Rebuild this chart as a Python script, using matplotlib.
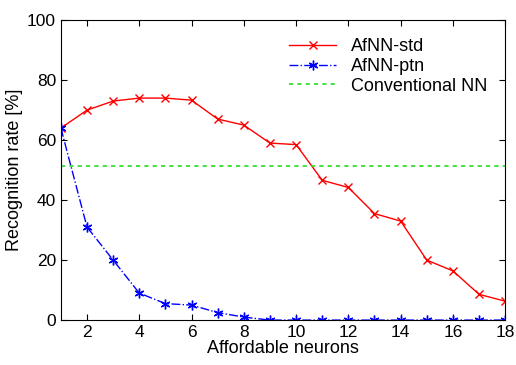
import matplotlib
matplotlib.use("Agg")
import matplotlib.pyplot as plt

neurons = list(range(1, 19))
afnn_std = [64, 70, 73, 74, 74, 73.3, 67, 65, 59, 58.5, 46.6, 44.2, 35.5, 33, 20, 16.4, 8.6, 6.3]
afnn_ptn = [64, 31, 20, 9, 5.5, 5, 2.5, 1, 0, 0, 0, 0, 0, 0, 0, 0, 0, 0]
conventional = 51.5


def main():
    plt.rcParams['font.family'] = ['Liberation Sans', 'DejaVu Sans']
    fig = plt.figure(figsize=(5.16, 3.65), dpi=100)
    ax = fig.add_axes([0.118, 0.123, 0.861, 0.822])

    ax.plot(neurons, afnn_std, color='red', marker='x', markersize=6, linewidth=1, label='AfNN-std')
    ax.plot(neurons, afnn_ptn, color='blue', marker=(6, 2, 0), markersize=7, linewidth=1,
            linestyle='-.', label='AfNN-ptn')
    ax.axhline(conventional, color='#22dd22', linewidth=1.2, linestyle=(0, (2.5, 2.5)),
               label='Conventional NN')

    ax.set_xlim(1, 18)
    ax.set_ylim(0, 100)
    ax.set_xticks(range(2, 19, 2))
    ax.set_yticks(range(0, 101, 20))
    ax.tick_params(direction='in', top=True, right=True, labelsize=12.5, length=4)
    ax.set_xlabel('Affordable neurons', fontsize=13, labelpad=0)
    ax.set_ylabel('Recognition rate [%]', fontsize=13, labelpad=3)
    ax.legend(loc='upper right', frameon=False, fontsize=13, handlelength=2.6,
              borderaxespad=0.6, labelspacing=0.15)

    fig.savefig('out.png', dpi=100)


if __name__ == '__main__':
    main()
